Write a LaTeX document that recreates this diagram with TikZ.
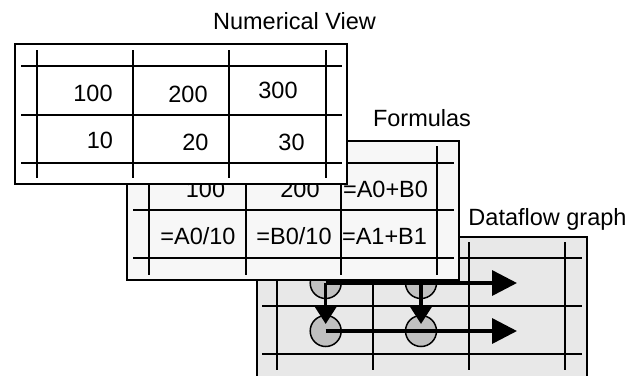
\documentclass[tikz,border=0pt]{standalone}
\usepackage{fontspec}
\setmainfont{Liberation Sans}
\usetikzlibrary{arrows.meta}
\definecolor{formfill}{HTML}{F7F7F7}
\definecolor{flowfill}{HTML}{E8E8E8}
\definecolor{dotfill}{HTML}{C0C0C0}
\tikzset{
  panel/.style={draw=black, line width=2bp},
  gridline/.style={draw=black, line width=2bp},
  txt/.style={inner sep=0pt, anchor=base, font=\fontsize{23.5bp}{28bp}\selectfont},
  dot/.style={circle, draw=black, line width=1.5bp, fill=dotfill, minimum size=31bp, inner sep=0pt},
  harrow/.style={line width=3.5bp, -{Triangle[length=25bp,width=25bp]}},
  varrow/.style={line width=3.5bp, -{Triangle[length=18bp,width=22bp]}, shorten >=7bp},
}
\begin{document}
\begin{tikzpicture}[x=1bp,y=-1bp]
\useasboundingbox (0,0) rectangle (642,375);
\clip (0,0) rectangle (642,375);
% ---------- Dataflow graph panel ----------
\filldraw[panel, fill=flowfill] (257,237) rectangle (587,380);
\foreach \x in {277,373,469,565} \draw[gridline] (\x,242) -- (\x,370);
\foreach \y in {258,306,354} \draw[gridline] (262,\y) -- (582,\y);
\node[dot] (c00) at (325.7,283) {};
\node[dot] (c01) at (421,283) {};
\node[dot] (c10) at (325.7,331) {};
\node[dot] (c11) at (421,331) {};
\coordinate (e0) at (517,283);
\coordinate (e1) at (517,331);
\draw[harrow] (c00.center) -- (e0);
\draw[harrow] (c10.center) -- (e1);
\draw[varrow] (c00.center) -- (c10.center);
\draw[varrow] (c01.center) -- (c11.center);
% ---------- Formulas panel ----------
\filldraw[panel, fill=formfill] (127,140.7) rectangle (459,280);
\foreach \x in {149,246,341,437} \draw[gridline] (\x,146) -- (\x,275);
\foreach \y in {163,210,258} \draw[gridline] (133,\y) -- (454,\y);
\node[txt] (f00) at (205.5,197) {100};
\node[txt] (f01) at (300,197) {200};
\node[txt] (f02) at (385.5,197) {=A0+B0};
\node[txt] (f10) at (198,244) {=A0/10};
\node[txt] (f11) at (294,244) {=B0/10};
\node[txt] (f12) at (384.5,244) {=A1+B1};
% ---------- Numerical view panel ----------
\filldraw[panel, fill=white] (15.3,44) rectangle (346.7,184);
\foreach \x in {36.7,133.3,229.3,326} \draw[gridline] (\x,50) -- (\x,178);
\foreach \y in {66,114.7,162.7} \draw[gridline] (21,\y) -- (341.7,\y);
\node[txt] (n00) at (93,101) {100};
\node[txt] (n01) at (188,102) {200};
\node[txt] (n02) at (278,98) {300};
\node[txt] (n10) at (100,148) {10};
\node[txt] (n11) at (195.5,150) {20};
\node[txt] (n12) at (291.5,150) {30};
% ---------- Titles ----------
\node[txt] (t1) at (294.5,29.3) {Numerical View};
\node[txt] (t2) at (422,126) {Formulas};
\node[txt] (t3) at (547.5,225) {Dataflow graph};
\end{tikzpicture}
\end{document}
